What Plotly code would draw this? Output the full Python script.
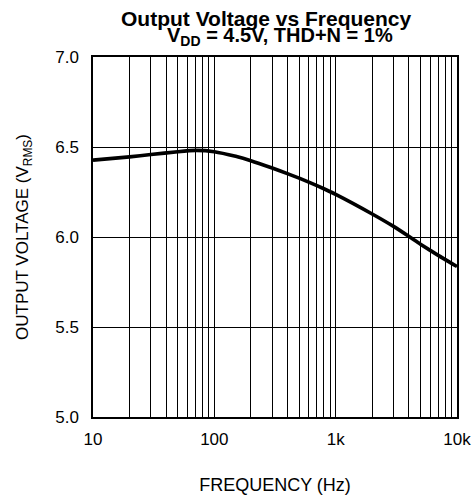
import plotly.graph_objects as go

# Output voltage at THD+N = 1 %, VDD = 4.5 V
freq_hz = [10, 20, 30, 50, 70, 100, 150, 200, 300, 400, 500, 600, 800, 1000,
           2000, 3000, 4000, 5000, 7000, 10000]
vout_rms = [6.427, 6.445, 6.458, 6.474, 6.481, 6.474, 6.448, 6.424, 6.383, 6.352, 6.327, 6.305,
            6.268, 6.237, 6.128, 6.059, 6.004, 5.960, 5.898, 5.836]

x_tickvals = [10, 100, 1000, 10000]
x_ticktext = ["10", "100", "1k", "10k"]
y_tickvals = [5.0, 5.5, 6.0, 6.5, 7.0]
y_ticktext = ["5.0", "5.5", "6.0", "6.5", "7.0"]
minor_vals = [m * 10 ** d for d in range(1, 4) for m in range(2, 10)]

FONT = "Liberation Sans, Arial, sans-serif"
PLOT_L, PLOT_W = 93, 472 - 93 - 15
PLOT_H = 495 - 57 - 78

fig = go.Figure()
fig.add_trace(go.Scatter(
    x=freq_hz, y=vout_rms, mode="lines",
    line=dict(color="black", width=3.6, shape="spline", smoothing=0.5),
    showlegend=False, hoverinfo="skip",
))

fig.update_layout(
    width=472, height=495,
    margin=dict(l=PLOT_L, r=15, t=57, b=78, autoexpand=False),
    paper_bgcolor="white", plot_bgcolor="white",
    font=dict(family=FONT, color="black", size=17),
    annotations=[
        dict(text="<b>Output Voltage vs Frequency</b>",
             x=(266 - PLOT_L) / PLOT_W, xref="paper",
             y=1 + 38 / PLOT_H, yref="paper", xanchor="center", yanchor="middle",
             showarrow=False, font=dict(size=21, family=FONT)),
        dict(text="<b>V<sub>DD</sub> = 4.5V, THD+N = 1%</b>",
             x=(280 - PLOT_L) / PLOT_W, xref="paper",
             y=1 + 20 / PLOT_H, yref="paper", xanchor="center", yanchor="middle",
             showarrow=False, font=dict(size=20, family=FONT)),
    ],
)

fig.update_xaxes(
    type="log", range=[1, 4], automargin=False,
    tickvals=x_tickvals, ticktext=x_ticktext, ticks="", ticklabelstandoff=6,
    showgrid=True, gridcolor="black", gridwidth=1,
    minor=dict(tickvals=minor_vals, showgrid=True, gridcolor="black", gridwidth=1, ticks=""),
    showline=True, linecolor="black", linewidth=1.5, mirror=True,
    zeroline=False,
    title=dict(text="FREQUENCY (Hz)", font=dict(size=18), standoff=34),
    tickfont=dict(size=17),
)
fig.update_yaxes(
    range=[5.0, 7.0], automargin=False,
    tickvals=y_tickvals, ticktext=y_ticktext, ticks="", ticklabelstandoff=9,
    showgrid=True, gridcolor="black", gridwidth=1,
    showline=True, linecolor="black", linewidth=1.5, mirror=True,
    zeroline=False,
    title=dict(text="OUTPUT VOLTAGE (V<sub>RMS</sub>)", font=dict(size=17), standoff=22),
    tickfont=dict(size=17),
)

fig.write_html("out.html")
